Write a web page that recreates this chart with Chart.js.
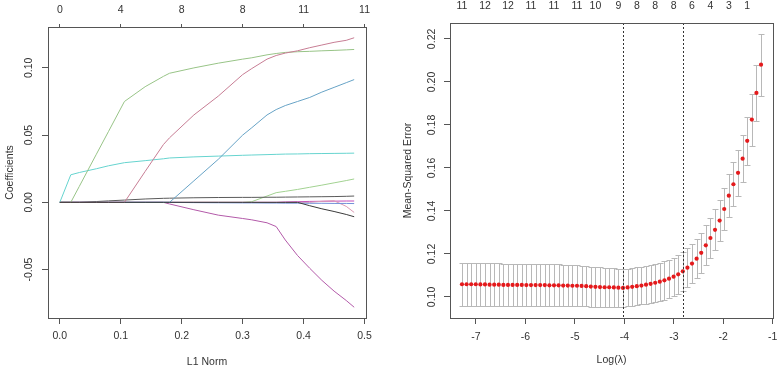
<!DOCTYPE html>
<html>
<head>
<meta charset="utf-8">
<script src="https://cdn.jsdelivr.net/npm/chart.js@4.4.1/dist/chart.umd.min.js"></script>
<style>
  html, body { margin: 0; padding: 0; background: #fff; }
  body { width: 777px; height: 368px; position: relative; overflow: hidden; }
  canvas { position: absolute; top: 0; }
  #coef { left: 0; }
  #cv { left: 388px; }
</style>
</head>
<body>
<canvas id="coef" width="388" height="368"></canvas>
<canvas id="cv" width="389" height="368"></canvas>
<script>
// ---- left panel: coefficient paths against L1 norm ----
const l1Norm = [0, 0.018, 0.032, 0.06, 0.08, 0.106, 0.14, 0.17, 0.18, 0.22, 0.26, 0.30, 0.315, 0.34, 0.355, 0.37, 0.39, 0.41, 0.43, 0.45, 0.47, 0.483];

const coefGreen    = [0, 0, 0.0119, 0.0358, 0.0528, 0.075, 0.086, 0.0937, 0.096, 0.100, 0.1035, 0.1065, 0.1075, 0.1097, 0.1107, 0.1115, 0.112, 0.1123, 0.1127, 0.113, 0.1134, 0.1137];
const coefMauve    = [0, 0, 0, 0, 0, 0, 0.023, 0.043, 0.048, 0.065, 0.079, 0.095, 0.0995, 0.1065, 0.1092, 0.111, 0.1127, 0.115, 0.117, 0.119, 0.1205, 0.1224];
const coefBlue     = [0, 0, 0, 0, 0, 0, 0, 0, 0, 0.016, 0.032, 0.05, 0.0555, 0.065, 0.069, 0.072, 0.075, 0.078, 0.082, 0.0855, 0.089, 0.0913];
const coefCyan     = [0, 0.0205, 0.0222, 0.025, 0.0272, 0.0295, 0.031, 0.0324, 0.033, 0.0338, 0.0344, 0.035, 0.0352, 0.0355, 0.0357, 0.0359, 0.036, 0.0362, 0.0363, 0.0364, 0.0365, 0.0366];
const coefGreen2   = [0, 0, 0, 0, 0, 0, 0, 0, 0, 0, 0, 0, 0.0005, 0.0047, 0.0072, 0.0082, 0.0096, 0.0112, 0.0128, 0.0145, 0.0162, 0.0174];
const coefDark     = [0, 0, 0, 0.0006, 0.0011, 0.0017, 0.0025, 0.003, 0.0031, 0.0034, 0.0036, 0.0037, 0.0037, 0.0038, 0.0038, 0.0039, 0.004, 0.0041, 0.0042, 0.0043, 0.0045, 0.0047];
const coefBlack    = [0, 0, 0, 0, 0, 0, 0, 0, 0, 0, 0, 0, 0, 0, 0, 0, 0, -0.0025, -0.0048, -0.0068, -0.009, -0.0107];
const coefPink     = [0, 0, 0, 0, 0, 0, 0, 0, 0, 0, 0, 0, 0, 0, 0, 0, 0, 0, 0.0008, 0.0012, -0.003, -0.0075];
const coefMagenta  = [0, 0, 0, 0, 0, 0, 0, 0, -0.0012, -0.0055, -0.0095, -0.012, -0.013, -0.0152, -0.018, -0.028, -0.0395, -0.049, -0.058, -0.066, -0.073, -0.078];
const coefMagenta2 = [0, 0, 0, 0, 0, 0, 0, 0, 0, 0, 0, 0, 0, 0, 0, 0.0003, 0.0005, 0.0007, 0.0008, 0.0009, 0.001, 0.001];
const coefBlue2    = [0, 0, 0, 0, 0, 0, 0, 0, 0, -0.0002, -0.0003, -0.0004, -0.0004, -0.0005, -0.0005, -0.0006, -0.0006, -0.0007, -0.0007, -0.0008, -0.0008, -0.0009];

const l1Ticks = [0, 0.1, 0.2, 0.3, 0.4, 0.5];
const l1DfLabels = ['0', '4', '8', '8', '11', '11'];
const coefTicks = [-0.05, 0, 0.05, 0.10];

// ---- right panel: cross-validated MSE against log(lambda) ----
const logLambda = [-1.237, -1.330, -1.423, -1.516, -1.609, -1.702, -1.795, -1.888, -1.981, -2.074,
  -2.167, -2.260, -2.353, -2.446, -2.539, -2.632, -2.725, -2.818, -2.911, -3.004,
  -3.097, -3.190, -3.283, -3.376, -3.469, -3.562, -3.655, -3.748, -3.841, -3.934,
  -4.027, -4.120, -4.213, -4.306, -4.399, -4.492, -4.585, -4.678, -4.771, -4.864,
  -4.957, -5.050, -5.143, -5.236, -5.329, -5.422, -5.515, -5.608, -5.701, -5.794,
  -5.887, -5.980, -6.073, -6.166, -6.259, -6.352, -6.445, -6.538, -6.631, -6.724,
  -6.817, -6.910, -7.003, -7.096, -7.189, -7.282];
const mse = [0.208, 0.1949, 0.1825, 0.1726, 0.1643, 0.1577, 0.1524, 0.1471, 0.1409, 0.1355,
  0.1312, 0.1274, 0.124, 0.1205, 0.1178, 0.1155, 0.1136, 0.1119, 0.1105, 0.1094,
  0.1085, 0.1077, 0.1071, 0.1066, 0.1061, 0.1057, 0.1053, 0.105, 0.1047, 0.1044,
  0.1042, 0.1043, 0.1044, 0.1045, 0.1045, 0.1046, 0.1047, 0.1048, 0.105, 0.1051,
  0.1052, 0.1052, 0.1053, 0.1053, 0.1054, 0.1054, 0.1054, 0.1055, 0.1055, 0.1055,
  0.1055, 0.1055, 0.1056, 0.1056, 0.1056, 0.1056, 0.1056, 0.1057, 0.1057, 0.1057,
  0.1058, 0.1058, 0.1059, 0.1059, 0.1059, 0.1059];
const mseSd = [0.0144, 0.0131, 0.0121, 0.0112, 0.0108, 0.0106, 0.0102, 0.0100, 0.0098, 0.0096,
  0.0095, 0.0094, 0.0093, 0.0092, 0.0091, 0.0091, 0.0090, 0.0090, 0.0090, 0.0089,
  0.0089, 0.0089, 0.0089, 0.0088, 0.0088, 0.0088, 0.0088, 0.0088, 0.0088, 0.0088,
  0.0088, 0.0089, 0.0089, 0.0090, 0.0090, 0.0091, 0.0092, 0.0093, 0.0094, 0.0095,
  0.0095, 0.0096, 0.0096, 0.0097, 0.0097, 0.0097, 0.0098, 0.0098, 0.0098, 0.0098,
  0.0098, 0.0098, 0.0099, 0.0099, 0.0099, 0.0099, 0.0099, 0.0099, 0.0099, 0.0099,
  0.0099, 0.0099, 0.0099, 0.0099, 0.0099, 0.0099];

const dfTickIdx = [65, 60, 55, 50, 45, 40, 36, 31, 27, 23, 19, 15, 11, 7, 3];
const dfTickText = ['11', '12', '12', '11', '11', '11', '10', '9', '8', '8', '8', '6', '4', '3', '1'];
const logTicks = [-7, -6, -5, -4, -3, -2, -1];
const mseTicks = [0.10, 0.12, 0.14, 0.16, 0.18, 0.20, 0.22];

// lambda.min and lambda.1se picked the way glmnet does it
const idxMin = mse.indexOf(Math.min(...mse));
const idx1se = mse.findIndex(v => v <= mse[idxMin] + mseSd[idxMin]);

const FONT = '"Liberation Sans", Arial, sans-serif';
const TXT = '#333';
const AXIS = '#555';
Chart.defaults.font.family = FONT;
Chart.defaults.font.size = 10.5;
Chart.defaults.color = TXT;

function fixSize(size) {
  return scale => {
    if (scale.isHorizontal()) scale.height = size; else scale.width = size;
    scale.paddingLeft = scale.paddingRight = scale.paddingTop = scale.paddingBottom = 0;
  };
}
function setTicks(values) {
  return scale => { scale.ticks = values.map(v => ({ value: v })); };
}

// box, rotated y labels, error bars and the dotted lambda lines
const rPlot = {
  id: 'rPlot',
  beforeDatasetsDraw(chart, args, opts) {
    if (!opts.errorBars) return;
    const { ctx, scales: { x, y } } = chart;
    ctx.save();
    ctx.strokeStyle = '#b8b8b8';
    ctx.lineWidth = 1;
    ctx.beginPath();
    logLambda.forEach((l, i) => {
      const px = Math.round(x.getPixelForValue(l)) + 0.5;
      const top = Math.round(y.getPixelForValue(mse[i] + mseSd[i])) + 0.5;
      const bot = Math.round(y.getPixelForValue(mse[i] - mseSd[i])) + 0.5;
      ctx.moveTo(px, top); ctx.lineTo(px, bot);
      ctx.moveTo(px - 3, top); ctx.lineTo(px + 3, top);
      ctx.moveTo(px - 3, bot); ctx.lineTo(px + 3, bot);
    });
    ctx.stroke();
    ctx.restore();
  },
  afterDraw(chart, args, opts) {
    const { ctx, chartArea: a, scales: { x, y } } = chart;
    ctx.save();
    if (opts.vlines) {
      ctx.strokeStyle = '#333';
      ctx.setLineDash([2, 2]);
      [idxMin, idx1se].forEach(i => {
        const px = Math.round(x.getPixelForValue(logLambda[i])) + 0.5;
        ctx.beginPath(); ctx.moveTo(px, a.top); ctx.lineTo(px, a.bottom); ctx.stroke();
      });
      ctx.setLineDash([]);
    }
    ctx.strokeStyle = AXIS;
    ctx.lineWidth = 1;
    ctx.strokeRect(Math.round(a.left) + 0.5, Math.round(a.top) + 0.5,
      Math.round(a.right - a.left), Math.round(a.bottom - a.top));
    ctx.fillStyle = TXT;
    ctx.font = '10.5px ' + FONT;
    ctx.textAlign = 'center';
    ctx.textBaseline = 'middle';
    y.ticks.forEach(t => {
      ctx.save();
      ctx.translate(opts.yLabelX, y.getPixelForValue(t.value));
      ctx.rotate(-Math.PI / 2);
      ctx.fillText(t.value.toFixed(2), 0, 0);
      ctx.restore();
    });
    ctx.restore();
  }
};

const tickGrid = len => ({ drawOnChartArea: false, drawTicks: true, tickLength: len, color: AXIS });

// drawn in this order, later ones on top
const coefSeries = [
  [coefBlack, '#3a3a3a'], [coefMauve, '#c77d94'], [coefGreen, '#98c487'], [coefBlue, '#67a3c6'],
  [coefCyan, '#66d4cf'], [coefDark, '#5a5a5a'], [coefBlue2, '#7090d8'], [coefPink, '#dc9ab4'],
  [coefGreen2, '#a2d291'], [coefMagenta2, '#c24cba'], [coefMagenta, '#b35aa9']
];

new Chart(document.getElementById('coef'), {
  type: 'line',
  data: {
    datasets: coefSeries.map(([vals, col]) => ({
      data: l1Norm.map((v, i) => ({ x: v, y: vals[i] })),
      borderColor: col, borderWidth: 1, pointRadius: 0, tension: 0, fill: false
    }))
  },
  options: {
    responsive: false, animation: false, devicePixelRatio: 1,
    layout: { padding: { left: 0, right: 22, top: 0, bottom: 0 } },
    plugins: { legend: { display: false }, tooltip: { enabled: false }, rPlot: { yLabelX: 29 } },
    scales: {
      x: {
        type: 'linear', position: 'bottom', min: -0.0194, max: 0.5024,
        afterBuildTicks: setTicks(l1Ticks), afterFit: fixSize(50),
        ticks: { callback: v => v.toFixed(1), maxRotation: 0, autoSkip: false, padding: 6 },
        grid: tickGrid(6), border: { display: false },
        title: { display: true, text: 'L1 Norm', color: TXT, padding: { top: 0, bottom: 0 } }
      },
      x2: {
        type: 'linear', position: 'top', min: -0.0194, max: 0.5024,
        afterBuildTicks: setTicks(l1Ticks), afterFit: fixSize(27),
        ticks: { callback: (v, i) => l1DfLabels[i], maxRotation: 0, autoSkip: false, padding: 8 },
        grid: tickGrid(3), border: { display: false }
      },
      y: {
        type: 'linear', min: -0.086, max: 0.1304,
        afterBuildTicks: setTicks(coefTicks), afterFit: fixSize(48),
        ticks: { display: false },
        grid: tickGrid(6), border: { display: false },
        title: { display: true, text: 'Coefficients', color: TXT, padding: { top: 4, bottom: 0 } }
      }
    }
  },
  plugins: [rPlot]
});

new Chart(document.getElementById('cv'), {
  type: 'scatter',
  data: {
    datasets: [{
      data: logLambda.map((l, i) => ({ x: l, y: mse[i] })),
      backgroundColor: '#e41a1c', borderWidth: 0, pointRadius: 2.1
    }]
  },
  options: {
    responsive: false, animation: false, devicePixelRatio: 1,
    layout: { padding: { left: 0, right: 4, top: 0, bottom: 0 } },
    plugins: { legend: { display: false }, tooltip: { enabled: false }, rPlot: { yLabelX: 44, errorBars: true, vlines: true } },
    scales: {
      x: {
        type: 'linear', position: 'bottom', min: -7.524, max: -0.995,
        afterBuildTicks: setTicks(logTicks), afterFit: fixSize(50),
        ticks: { callback: v => String(v), maxRotation: 0, autoSkip: false, padding: 7 },
        grid: tickGrid(6), border: { display: false },
        title: { display: true, text: 'Log(λ)', color: TXT, padding: { top: 0, bottom: 2 } }
      },
      x2: {
        type: 'linear', position: 'top', min: -7.524, max: -0.995,
        afterBuildTicks: setTicks(dfTickIdx.map(i => logLambda[i])), afterFit: fixSize(23),
        ticks: { callback: (v, i) => dfTickText[i], maxRotation: 0, autoSkip: false, padding: 11 },
        grid: { display: false, drawTicks: false }, border: { display: false }
      },
      y: {
        type: 'linear', min: 0.0902, max: 0.2274,
        afterBuildTicks: setTicks(mseTicks), afterFit: fixSize(62),
        ticks: { display: false },
        grid: tickGrid(6), border: { display: false },
        title: { display: true, text: 'Mean-Squared Error', color: TXT, padding: { top: 14, bottom: 0 } }
      }
    }
  },
  plugins: [rPlot]
});
</script>
</body>
</html>
